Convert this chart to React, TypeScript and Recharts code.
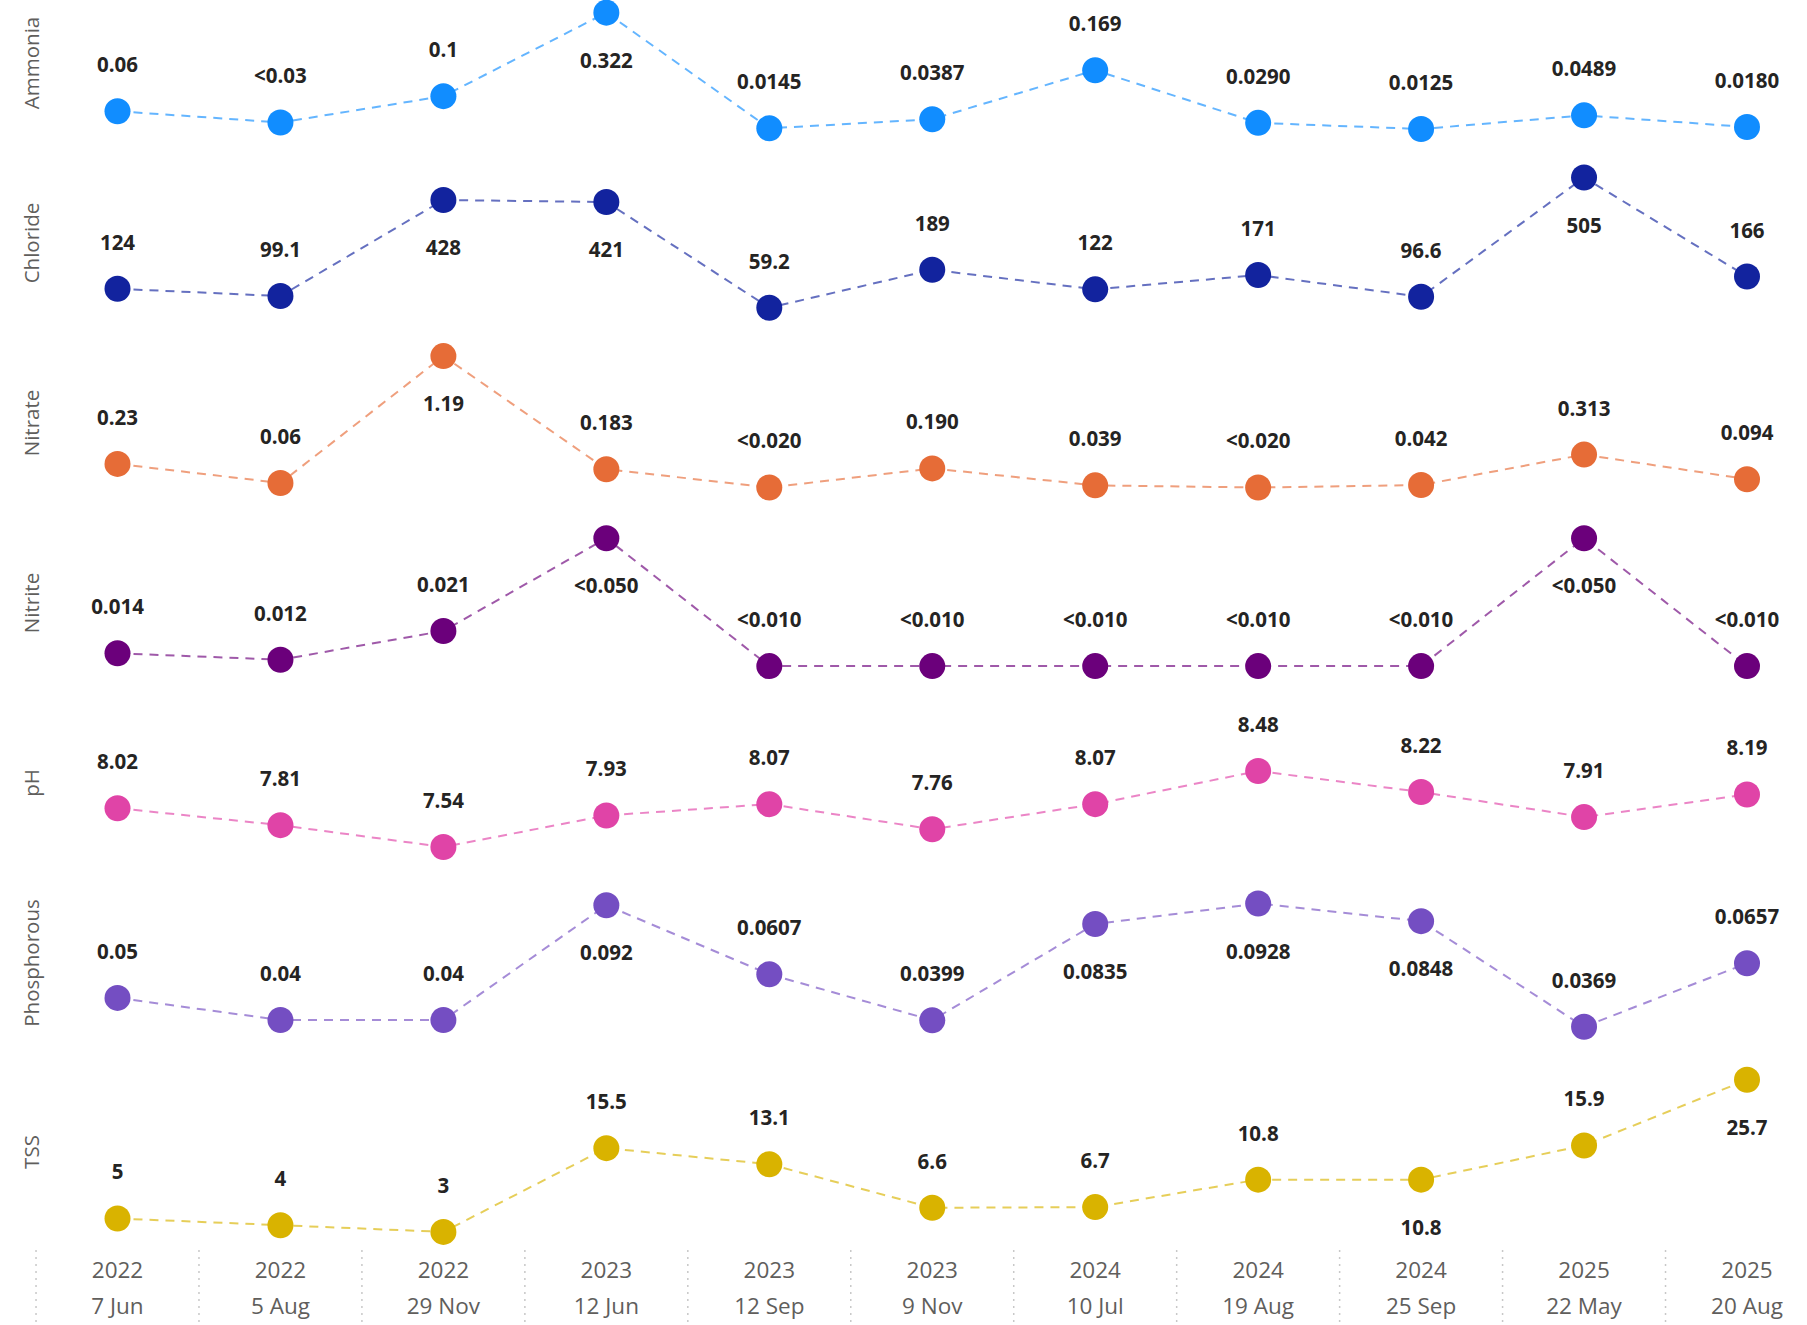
import React from 'react';
import { LineChart, Line, XAxis, YAxis, LabelList } from 'recharts';

// sample dates (small multiples share this axis)
const years = ['2022', '2022', '2022', '2023', '2023', '2023', '2024', '2024', '2024', '2025', '2025'];
const days = ['7 Jun', '5 Aug', '29 Nov', '12 Jun', '12 Sep', '9 Nov', '10 Jul', '19 Aug', '25 Sep', '22 May', '20 Aug'];

const ammonia = [0.06, 0.03, 0.1, 0.322, 0.0145, 0.0387, 0.169, 0.029, 0.0125, 0.0489, 0.018];
const ammoniaText = ['0.06', '<0.03', '0.1', '0.322', '0.0145', '0.0387', '0.169', '0.0290', '0.0125', '0.0489', '0.0180'];

const chloride = [124, 99.1, 428, 421, 59.2, 189, 122, 171, 96.6, 505, 166];
const chlorideText = ['124', '99.1', '428', '421', '59.2', '189', '122', '171', '96.6', '505', '166'];

const nitrate = [0.23, 0.06, 1.19, 0.183, 0.02, 0.19, 0.039, 0.02, 0.042, 0.313, 0.094];
const nitrateText = ['0.23', '0.06', '1.19', '0.183', '<0.020', '0.190', '0.039', '<0.020', '0.042', '0.313', '0.094'];

const nitrite = [0.014, 0.012, 0.021, 0.05, 0.01, 0.01, 0.01, 0.01, 0.01, 0.05, 0.01];
const nitriteText = ['0.014', '0.012', '0.021', '<0.050', '<0.010', '<0.010', '<0.010', '<0.010', '<0.010', '<0.050', '<0.010'];

const ph = [8.02, 7.81, 7.54, 7.93, 8.07, 7.76, 8.07, 8.48, 8.22, 7.91, 8.19];
const phText = ['8.02', '7.81', '7.54', '7.93', '8.07', '7.76', '8.07', '8.48', '8.22', '7.91', '8.19'];

const phosphorous = [0.05, 0.04, 0.04, 0.092, 0.0607, 0.0399, 0.0835, 0.0928, 0.0848, 0.0369, 0.0657];
const phosphorousText = ['0.05', '0.04', '0.04', '0.092', '0.0607', '0.0399', '0.0835', '0.0928', '0.0848', '0.0369', '0.0657'];

const tss = [5, 4, 3, 15.5, 13.1, 6.6, 6.7, 10.8, 10.8, 15.9, 25.7];
const tssText = ['5', '4', '3', '15.5', '13.1', '6.6', '6.7', '10.8', '10.8', '15.9', '25.7'];

// one panel per measure; domain = y range of the panel, below = labels drawn under the dot
const panels = [
  { name: 'Ammonia', values: ammonia, text: ammoniaText, color: '#118DFF', domain: [-0.0698, 0.3956], below: [3] },
  { name: 'Chloride', values: chloride, text: chlorideText, color: '#12239E', domain: [-51.4, 547.8], below: [2, 3, 9] },
  { name: 'Nitrate', values: nitrate, text: nitrateText, color: '#E66C37', domain: [-0.2694, 1.2888], below: [2] },
  { name: 'Nitrite', values: nitrite, text: nitriteText, color: '#6B007B', domain: [-0.0006, 0.05413], below: [3, 9] },
  { name: 'pH', values: ph, text: phText, color: '#E044A7', domain: [7.132, 9.296], below: [] },
  { name: 'Phosphorous', values: phosphorous, text: phosphorousText, color: '#744EC2', domain: [0.02185, 0.10119], below: [3, 6, 7, 8] },
  { name: 'TSS', values: tss, text: tssText, color: '#D9B300', domain: [1.79, 27.91], below: [8, 10] },
];

const W = 1807;
const ROW = 180;
const ML = 117.5;
const MR = 60;
const STEP = (W - ML - MR) / (years.length - 1);
const FONT = "'Open Sans', 'Noto Sans', sans-serif";

const DateTick = (props: any) => {
  const { x, y, payload } = props;
  const i = payload.index;
  return (
    <g>
      <line x1={x - STEP / 2} x2={x - STEP / 2} y1={y + 10} y2={y + 90} stroke="#c8c8c8" strokeWidth={1.5} strokeDasharray="2 5" />
      <text x={x} y={y + 29.5} textAnchor="middle" dominantBaseline="central" fontFamily={FONT} fontSize={22.5} fill="#605E5C">
        {years[i]}
      </text>
      <text x={x} y={y + 65.5} textAnchor="middle" dominantBaseline="central" fontFamily={FONT} fontSize={22.5} fill="#605E5C">
        {days[i]}
      </text>
    </g>
  );
};

function Panel({ p, idx, last }: { p: any; idx: number; last: boolean }) {
  const data = p.values.map((v: number, i: number) => ({ date: `${years[i]} ${days[i]}`, value: v }));
  const top = idx * ROW - 60;
  const height = last ? 305 : 280;
  const renderLabel = (props: any) => {
    const { x, y, index } = props;
    const dy = p.below.includes(index) ? 47 : -47;
    return (
      <text x={x} y={y + dy} textAnchor="middle" dominantBaseline="central" fontFamily={FONT} fontWeight={700} fontSize={20.5} fill="#252423">
        {p.text[index]}
      </text>
    );
  };
  return (
    <div style={{ position: 'absolute', left: 0, top, width: W, height }}>
      <LineChart width={W} height={height} data={data} margin={{ top: 45, right: MR, bottom: last ? 0 : 60, left: ML }}>
        <XAxis
          dataKey="date"
          scale="point"
          hide={!last}
          height={last ? 85 : 0}
          axisLine={false}
          tickLine={false}
          tickSize={0}
          tickMargin={0}
          interval={0}
          tick={<DateTick />}
        />
        <YAxis hide type="number" domain={p.domain} width={0} />
        <Line
          type="linear"
          dataKey="value"
          stroke={p.color}
          strokeOpacity={0.65}
          strokeWidth={2}
          strokeDasharray="9 7"
          dot={{ r: 13, fill: p.color, stroke: p.color, strokeWidth: 0, fillOpacity: 1 }}
          activeDot={false}
          isAnimationActive={false}
        >
          <LabelList dataKey="value" content={renderLabel} />
        </Line>
      </LineChart>
      <div
        style={{
          position: 'absolute',
          left: 31,
          top: 60 + (last ? 72 : 63),
          transform: 'translate(-50%, -50%) rotate(-90deg)',
          fontFamily: FONT,
          fontSize: 20.5,
          color: '#605E5C',
          whiteSpace: 'nowrap',
        }}
      >
        {p.name}
      </div>
    </div>
  );
}

export default function App() {
  return (
    <div style={{ position: 'absolute', left: 0, top: 0, width: W, height: 1325, background: '#fff', overflow: 'hidden' }}>
      {panels.map((p, i) => (
        <Panel key={p.name} p={p} idx={i} last={i === panels.length - 1} />
      ))}
    </div>
  );
}
